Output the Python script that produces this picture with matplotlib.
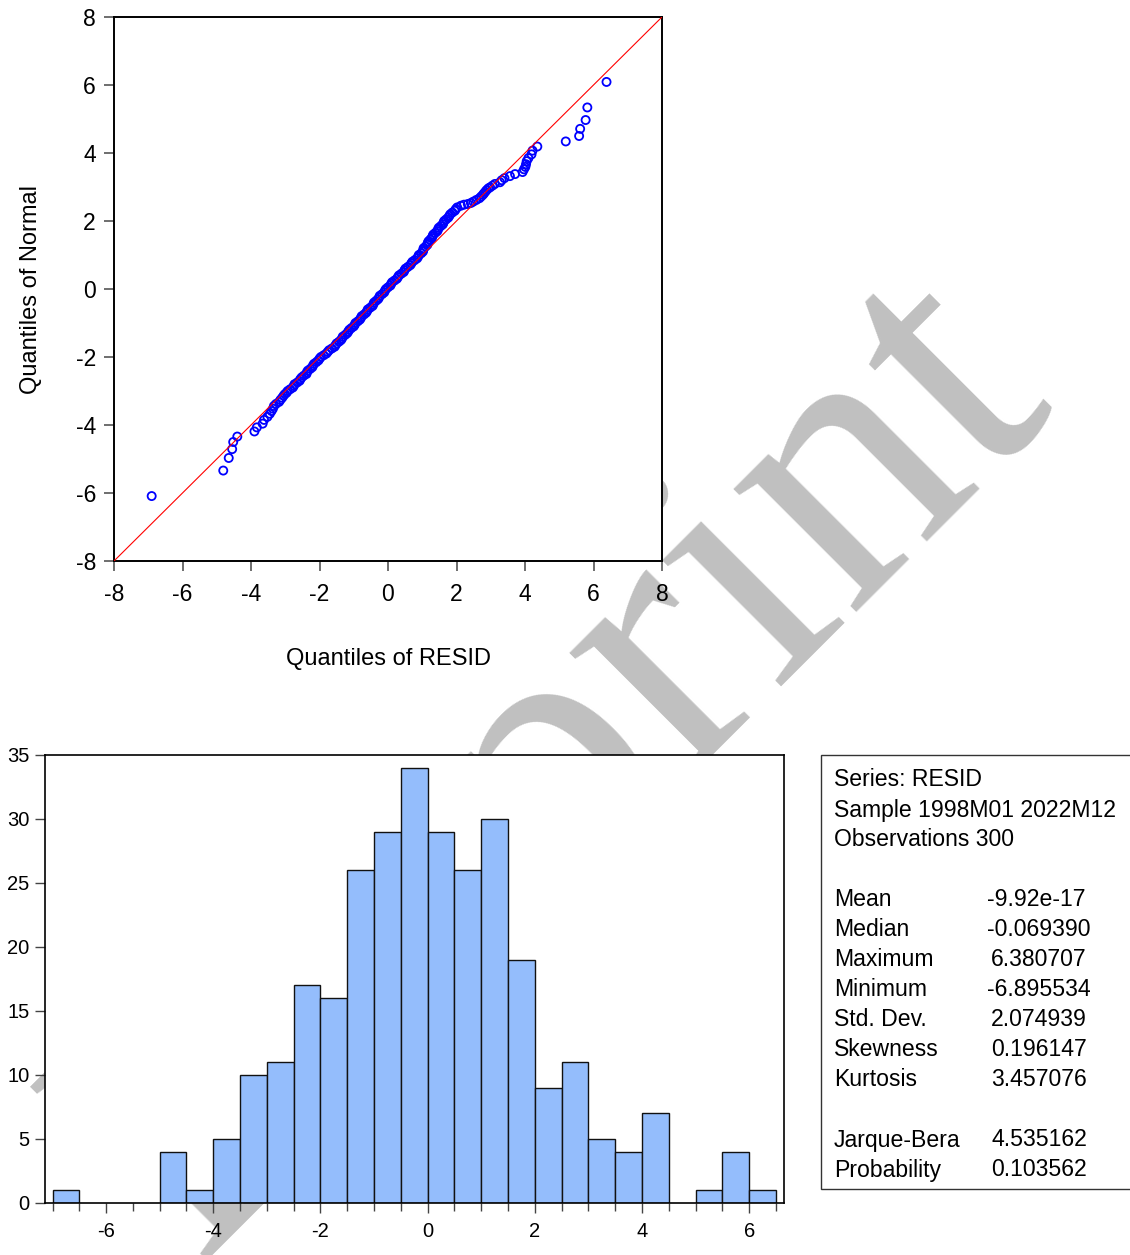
import matplotlib
matplotlib.use("Agg")
import matplotlib.pyplot as plt
from matplotlib.patches import Rectangle
from matplotlib.ticker import MultipleLocator

plt.rcParams['font.family'] = ['Liberation Sans', 'DejaVu Sans']
plt.rcParams['axes.unicode_minus'] = False

# Q-Q plot: quantiles of RESID (x) vs quantiles of Normal (y)
qq_normal = [
    -6.09, -5.34, -4.97, -4.71, -4.50, -4.34, -4.19, -4.07, -3.96, -3.85, -3.76,
    -3.67, -3.59, -3.52, -3.44, -3.38, -3.32, -3.26, -3.20, -3.14, -3.09,
    -3.05, -3.00, -2.95, -2.90, -2.85, -2.80, -2.75, -2.70, -2.65, -2.60,
    -2.55, -2.50, -2.45, -2.40, -2.35, -2.30, -2.25, -2.20, -2.15, -2.10,
    -2.05, -2.00, -1.95, -1.90, -1.85, -1.80, -1.75, -1.70, -1.65, -1.60,
    -1.55, -1.50, -1.45, -1.40, -1.35, -1.30, -1.25, -1.20, -1.15, -1.10,
    -1.05, -1.00, -0.95, -0.90, -0.85, -0.80, -0.75, -0.70, -0.65, -0.60,
    -0.55, -0.50, -0.45, -0.40, -0.35, -0.30, -0.25, -0.20, -0.15, -0.10,
    -0.05, 0.00, 0.05, 0.10, 0.15, 0.20, 0.25, 0.30, 0.35, 0.40,
    0.45, 0.50, 0.55, 0.60, 0.65, 0.70, 0.75, 0.80, 0.85, 0.90,
    0.95, 1.00, 1.05, 1.10, 1.15, 1.20, 1.25, 1.30, 1.35, 1.40,
    1.45, 1.50, 1.55, 1.60, 1.65, 1.70, 1.75, 1.80, 1.85, 1.90,
    1.95, 2.00, 2.05, 2.10, 2.15, 2.20, 2.25, 2.30, 2.35, 2.40,
    2.45, 2.48, 2.50, 2.53, 2.57, 2.62, 2.67, 2.72, 2.77, 2.81,
    2.86, 2.91, 2.96, 2.99,
    3.04, 3.09, 3.14, 3.20, 3.26, 3.32, 3.38, 3.44, 3.52, 3.59, 3.67,
    3.76, 3.85, 3.96, 4.07, 4.19, 4.34, 4.50, 4.71, 4.97, 5.34, 6.09,
]
qq_resid = [
    -6.90, -4.81, -4.65, -4.55, -4.52, -4.40, -3.90, -3.83, -3.66, -3.62, -3.52,
    -3.45, -3.40, -3.36, -3.33, -3.27, -3.18, -3.14, -3.09, -3.05, -3.01,
    -2.96, -2.93, -2.86, -2.78, -2.75, -2.73, -2.65, -2.58, -2.56, -2.52,
    -2.46, -2.38, -2.37, -2.34, -2.27, -2.21, -2.19, -2.16, -2.09, -2.03,
    -2.00, -1.96, -1.88, -1.80, -1.76, -1.72, -1.64, -1.56, -1.53, -1.50,
    -1.43, -1.37, -1.34, -1.32, -1.25, -1.19, -1.16, -1.13, -1.07, -1.00,
    -0.97, -0.95, -0.88, -0.82, -0.79, -0.77, -0.70, -0.64, -0.61, -0.59,
    -0.52, -0.45, -0.43, -0.41, -0.35, -0.29, -0.26, -0.24, -0.17, -0.11,
    -0.09, -0.06, 0.00, 0.07, 0.09, 0.12, 0.19, 0.26, 0.29, 0.32,
    0.39, 0.46, 0.48, 0.51, 0.58, 0.65, 0.68, 0.71, 0.78, 0.85,
    0.88, 0.90, 0.97, 1.02, 1.03, 1.04, 1.10, 1.15, 1.16, 1.18,
    1.23, 1.28, 1.30, 1.32, 1.38, 1.44, 1.46, 1.48, 1.54, 1.60,
    1.62, 1.64, 1.70, 1.76, 1.79, 1.82, 1.88, 1.95, 1.98, 2.02,
    2.13, 2.22, 2.33, 2.42, 2.49, 2.58, 2.67, 2.72, 2.77, 2.80,
    2.84, 2.88, 2.93, 2.98,
    3.05, 3.12, 3.27, 3.32, 3.40, 3.56, 3.71, 3.93, 3.97, 4.01, 4.03,
    4.05, 4.10, 4.19, 4.22, 4.36, 5.19, 5.58, 5.61, 5.77, 5.82, 6.38,
]
qq_ticks = [-8, -6, -4, -2, 0, 2, 4, 6, 8]

# histogram of RESID, bins of width 0.5
bin_left = [-7.0, -6.5, -6.0, -5.5, -5.0, -4.5, -4.0, -3.5, -3.0, -2.5, -2.0, -1.5, -1.0,
            -0.5, 0.0, 0.5, 1.0, 1.5, 2.0, 2.5, 3.0, 3.5, 4.0, 4.5, 5.0, 5.5, 6.0]
bin_count = [1, 0, 0, 0, 4, 1, 5, 10, 11, 17, 16, 26, 29,
             34, 29, 26, 30, 19, 9, 11, 5, 4, 7, 0, 1, 4, 1]
bin_width = 0.5
hist_xticks = [-6, -4, -2, 0, 2, 4, 6]
hist_yticks = [0, 5, 10, 15, 20, 25, 30, 35]

# descriptive statistics
stat_header = ["Series: RESID", "Sample 1998M01 2022M12", "Observations 300"]
stat_names = ["Mean", "Median", "Maximum", "Minimum", "Std. Dev.", "Skewness", "Kurtosis"]
stat_values = ["-9.92e-17", "-0.069390", "6.380707", "-6.895534", "2.074939", "0.196147", "3.457076"]
test_names = ["Jarque-Bera", "Probability"]
test_values = ["4.535162", "0.103562"]

W, H = 1130, 1255
fig = plt.figure(figsize=(W / 100, H / 100), dpi=100)
fig.patch.set_facecolor("white")

# watermark behind the panels
fig.text(560 / W, 1 - 768 / H, "Preprint", rotation=45, fontsize=272, color="#c0c0c0",
         family="Liberation Serif", ha="center", va="center", zorder=-5)

def px_axes(l, t, r, b):
    return fig.add_axes([l / W, 1 - b / H, (r - l) / W, (b - t) / H])

# ---- Q-Q plot ----
ax1 = px_axes(114, 17, 662, 561)
ax1.set_facecolor("white")
ax1.scatter(qq_resid, qq_normal, s=34, facecolors="none", edgecolors="#0000ff",
            linewidths=1.3, zorder=2)
ax1.axline((0, 0), slope=1, color="#ff0000", lw=0.8, zorder=3)
ax1.set_xlim(-8, 8)
ax1.set_ylim(-8, 8)
ax1.set_xticks(qq_ticks)
ax1.set_yticks(qq_ticks)
ax1.tick_params(direction="out", length=7, width=1.2, color="#555555",
                labelsize=16.5, pad=6)
ax1.tick_params(axis="x", pad=9)
for s in ax1.spines.values():
    s.set_linewidth(1.4)
ax1.set_xlabel("Quantiles of RESID", fontsize=17, labelpad=30)
ax1.set_ylabel("Quantiles of Normal", fontsize=17, labelpad=24)

# ---- histogram ----
ax2 = px_axes(45, 755, 784, 1203)
ax2.set_facecolor("white")
lefts = [b for b, c in zip(bin_left, bin_count) if c > 0]
heights = [c for c in bin_count if c > 0]
ax2.bar(lefts, heights, width=bin_width, align="edge", color="#94bdfc",
        edgecolor="#111111", linewidth=1.0, zorder=2)
ax2.set_xlim(-7.14, 6.65)
ax2.set_ylim(0, 35)
ax2.set_xticks(hist_xticks)
ax2.set_yticks(hist_yticks)
ax2.xaxis.set_minor_locator(MultipleLocator(0.5))
ax2.tick_params(which="both", direction="out", length=7, width=1.0, color="#444444",
                labelsize=14.5, pad=4)
ax2.tick_params(axis="x", which="major", pad=7)
ax2.tick_params(which="minor", length=6)
for s in ax2.spines.values():
    s.set_linewidth(1.2)

# ---- statistics box ----
fig.add_artist(Rectangle((821 / W, 1 - 1189 / H), 330 / W, 434 / H,
                         transform=fig.transFigure, facecolor="white",
                         edgecolor="#333333", linewidth=1.0, clip_on=False, zorder=1))
fs = 16.6
y0, dy = 780, 30
for i, t in enumerate(stat_header):
    fig.text(834 / W, 1 - (y0 + i * dy) / H, t, fontsize=fs, va="center", zorder=2)
for i, (n, v) in enumerate(zip(stat_names, stat_values)):
    yy = 1 - (y0 + (4 + i) * dy) / H
    fig.text(834 / W, yy, n, fontsize=fs, va="center", zorder=2)
    xv = 987 if v.startswith("-") else 991
    fig.text(xv / W, yy, v, fontsize=fs, va="center", zorder=2)
for i, (n, v) in enumerate(zip(test_names, test_values)):
    yy = 1 - (y0 + (12 + i) * dy) / H
    fig.text(834 / W, yy, n, fontsize=fs, va="center", zorder=2)
    fig.text(991 / W, yy, v, fontsize=fs, va="center", zorder=2)

fig.savefig("out.png", dpi=100, facecolor="white")
